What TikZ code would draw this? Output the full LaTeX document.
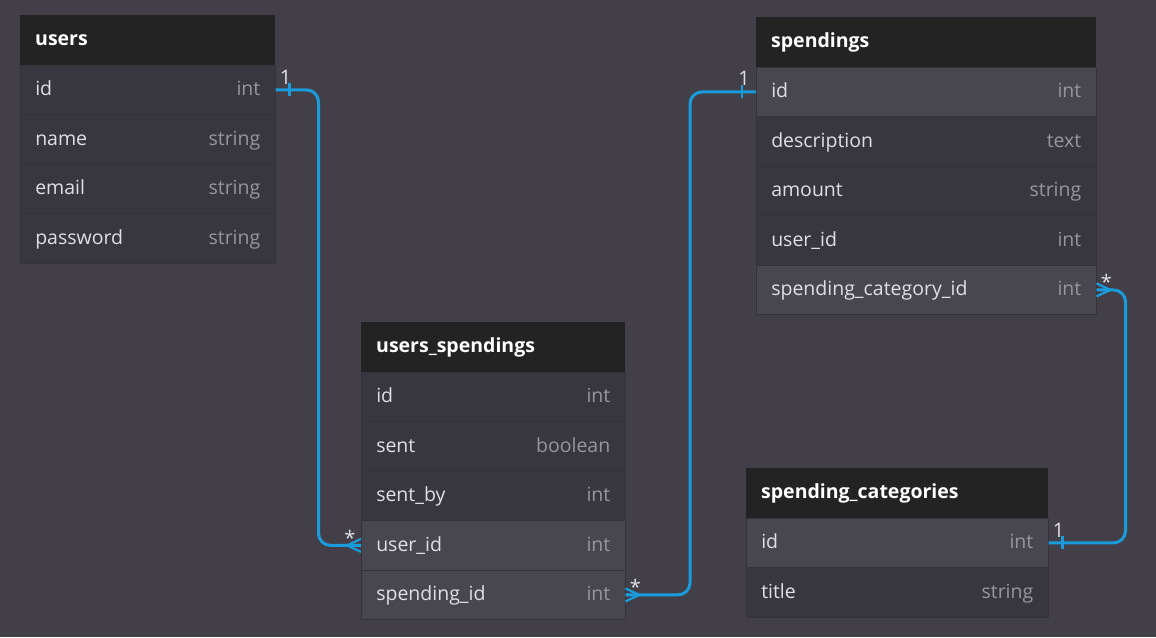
\documentclass[tikz,border=0pt]{standalone}
\usepackage{fontspec}
\setmainfont{Open Sans}
\usetikzlibrary{calc}

\definecolor{bgcol}{RGB}{66,63,72}
\definecolor{headcol}{RGB}{35,35,35}
\definecolor{rowcol}{RGB}{56,54,62}
\definecolor{keycol}{RGB}{72,70,78}
\definecolor{sepcol}{RGB}{52,50,58}
\definecolor{relcol}{RGB}{26,155,220}
\definecolor{namecol}{RGB}{224,224,228}
\definecolor{typecol}{RGB}{150,150,156}

\tikzset{
  head/.style={fill=headcol,text=white,font=\fontsize{19.5}{22}\bfseries,
    inner xsep=15pt,inner ysep=0pt,minimum height=49.5pt,align=left,
    text height=15pt,text depth=4pt,anchor=north west},
  field/.style={draw=sepcol,line width=0.5pt,text=namecol,font=\fontsize{19.5}{22}\selectfont,
    inner xsep=15pt,inner ysep=0pt,minimum height=49.5pt,align=left,
    text height=15.5pt,text depth=4pt,anchor=north west},
  ftype/.style={text=typecol,font=\fontsize{19.5}{22}\selectfont,inner sep=0pt,
    text height=15.5pt,text depth=4pt,anchor=east},
  rel/.style={draw=relcol,line width=3pt,rounded corners=12pt},
  relend/.style={draw=relcol,line width=2.2pt},
  card/.style={text=namecol,font=\fontsize{20}{22}\selectfont,inner sep=0pt}
}

% name, x, y, width, title, fields (name/type/fill)
\newcommand{\ertable}[6]{%
  \node[head,text width=#4pt-30pt] (#1) at (#2,#3) {#5};
  \foreach \f/\t/\k [count=\i] in {#6} {
    \node[field,fill=\k,text width=#4pt-30pt] (#1-\i)
      at ($(#1.south west)+(0,{(\i-1)*49.5})$) {\f};
    \node[ftype] (#1-\i-t) at ($(#1-\i.east)+(-15,0)$) {\t};
  }
}

% one side: tick at distance 14 from the table
\newcommand{\relone}[2]{%
  \draw[relend] ($(#1)+(#2*14,-6.5)$) -- ++(0,13);
}
% many side: crow's foot opening towards the table
\newcommand{\relmany}[2]{%
  \draw[relend] ($(#1)+(#2*14,0)$) -- ($(#1)+(0,-6.5)$)
    ($(#1)+(#2*14,0)$) -- (#1)
    ($(#1)+(#2*14,0)$) -- ($(#1)+(0,6.5)$);
}

\begin{document}
\begin{tikzpicture}[x=1pt,y=-1pt]
\useasboundingbox[fill=bgcol] (0,0) rectangle (1156,637);

\ertable{users}{20}{15}{255}{users}{id/int/rowcol, name/string/rowcol,
  email/string/rowcol, password/string/rowcol}
\ertable{sp}{756}{17}{340}{spendings}{id/int/keycol, description/text/rowcol,
  amount/string/rowcol, user\_id/int/rowcol, spending\_category\_id/int/keycol}
\ertable{us}{361}{322}{264}{users\_spendings}{id/int/rowcol, sent/boolean/rowcol,
  sent\_by/int/rowcol, user\_id/int/keycol, spending\_id/int/keycol}
\ertable{cat}{746}{468}{302}{spending\_categories}{id/int/keycol, title/string/rowcol}

% relations
\draw[rel] (users-1.east) -- ++(43,0) |- (us-4.west);
\draw[rel] (sp-1.west) -- ++(-66,0) |- (us-5.east);
\draw[rel] (cat-1.east) -- ++(77,0) |- (sp-5.east);

\relone{users-1.east}{1}
\relone{sp-1.west}{-1}
\relone{cat-1.east}{1}
\relmany{us-4.west}{-1}
\relmany{us-5.east}{1}
\relmany{sp-5.east}{1}

\node[card] (c-users) at ($(users-1.east)+(10,-13)$) {1};
\node[card] (c-sp) at ($(sp-1.west)+(-12,-14)$) {1};
\node[card] (c-cat) at ($(cat-1.east)+(10,-13)$) {1};
\node[card] (c-us4) at ($(us-4.west)+(-11,-8)$) {*};
\node[card] (c-us5) at ($(us-5.east)+(10,-8)$) {*};
\node[card] (c-sp5) at ($(sp-5.east)+(10,-8)$) {*};
\end{tikzpicture}
\end{document}
